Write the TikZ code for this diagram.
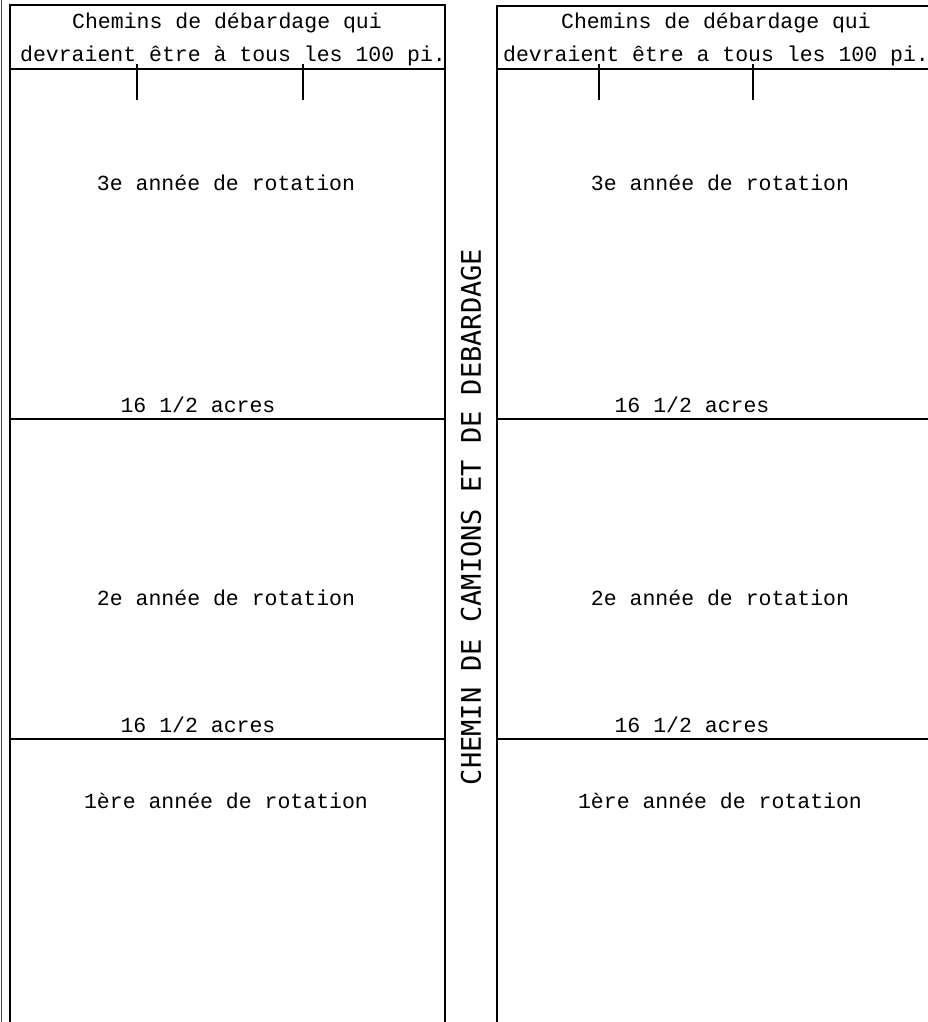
\documentclass[tikz,border=0pt]{standalone}
\usepackage{fontspec}
\newfontfamily\plotfont{Liberation Mono}
\newfontfamily\roadfont{DejaVu Sans Mono}
\usetikzlibrary{positioning}

\begin{document}
\begin{tikzpicture}[
  x=1pt, y=-1pt,
  font=\plotfont\fontsize{21.5}{24}\selectfont,
  wall/.style={line width=2pt, line cap=rect},
  edge line/.style={line width=0.9pt, black!70},
  tick/.style={line width=1.8pt},
  lbl/.style={anchor=base, inner sep=0pt},
  road/.style={font=\roadfont\fontsize{27}{29}\selectfont, rotate=90, inner sep=0pt}
]
\useasboundingbox (0,0) rectangle (927,1022);

% Left block
\draw[edge line] (1.5,0) -- (1.5,1022);
\draw[wall] (10,1022) -- (10,5) -- (445,5) -- (445,1022);
\foreach \y in {69,419,739}
  \draw[wall] (10,\y) -- (445,\y);
\foreach \x in {137,303}
  \draw[tick] (\x,64) -- (\x,100);

\node[lbl] (hdrLa) at (227,29) {Chemins de débardage qui};
\node[lbl] (hdrLb) at (233,62) {devraient être à tous les 100 pi.};
\node[lbl] (rotL3) at (226,190) {3e année de rotation};
\node[lbl] (acrL3) at (198,412) {16 1/2 acres};
\node[lbl] (rotL2) at (226,605) {2e année de rotation};
\node[lbl] (acrL2) at (198,732) {16 1/2 acres};
\node[lbl] (rotL1) at (226,808) {1ère année de rotation};

% Road
\node[road] (road) at (471,517) {CHEMIN DE CAMIONS ET DE DEBARDAGE};

% Right block
\draw[wall] (497,1022) -- (497,6) -- (940,6);
\foreach \y in {69,419,739}
  \draw[wall] (497,\y) -- (940,\y);
\foreach \x in {599,753}
  \draw[tick] (\x,64) -- (\x,100);

\node[lbl] (hdrRa) at (716,29) {Chemins de débardage qui};
\node[lbl] (hdrRb) at (716,62) {devraient être a tous les 100 pi.};
\node[lbl] (rotR3) at (720,190) {3e année de rotation};
\node[lbl] (acrR3) at (692,412) {16 1/2 acres};
\node[lbl] (rotR2) at (720,605) {2e année de rotation};
\node[lbl] (acrR2) at (692,732) {16 1/2 acres};
\node[lbl] (rotR1) at (720,808) {1ère année de rotation};

\end{tikzpicture}
\end{document}
